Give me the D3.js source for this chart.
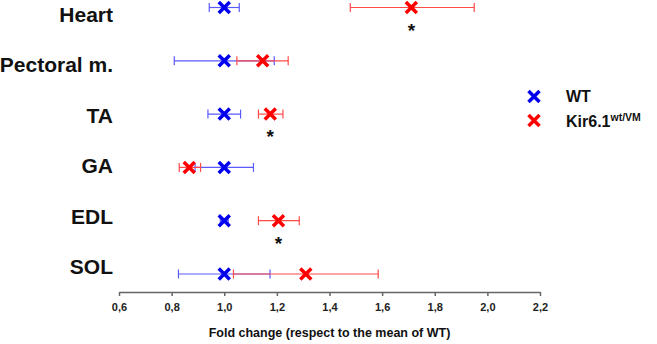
<!DOCTYPE html>
<html><head><meta charset="utf-8">
<script src="https://d3js.org/d3.v7.min.js"></script>
<style>body{margin:0;background:#fff;}svg{display:block;font-family:"Liberation Sans",Arial,sans-serif;}</style>
</head><body><div id="c"></div>
<script>
const categories = ["Heart","Pectoral m.","TA","GA","EDL","SOL"];
const wtMean = [1.0, 1.0, 1.0, 1.0, 1.0, 1.0];
const wtLow  = [0.943, 0.81, 0.938, 0.889, 0.985, 0.826];
const wtHigh = [1.057, 1.19, 1.062, 1.111, 1.015, 1.174];
const kirMean = [1.711, 1.146, 1.175, 0.867, 1.206, 1.31];
const kirLow  = [1.479, 1.048, 1.13, 0.829, 1.13, 1.035];
const kirHigh = [1.95, 1.243, 1.223, 0.91, 1.285, 1.585];
const significant = [true, false, true, false, true, false];
const xTicks = [0.6,0.8,1.0,1.2,1.4,1.6,1.8,2.0,2.2];
const xTitle = "Fold change (respect to the mean of WT)";
const seriesNames = ["WT","Kir6.1"];

const W=657,H=344;
const svg=d3.select("#c").append("svg").attr("width",W).attr("height",H);
const x=d3.scaleLinear().domain([0.6,2.2]).range([119,540]);
const y=d3.scalePoint().domain(categories).range([7.5,274]);
const yLab=d3.scalePoint().domain(categories).range([14.5,266.5]);

// axis
const ax=svg.append("g").attr("transform","translate(0,292)")
  .call(d3.axisBottom(x).tickValues(xTicks).tickSize(4).tickSizeOuter(0)
    .tickFormat(d=>d3.format(".1f")(d).replace(".",",")));
ax.select(".domain").attr("stroke","#666").attr("stroke-width",1.5);
ax.selectAll(".tick line").attr("stroke","#666").attr("stroke-width",1.5);
ax.selectAll(".tick text").attr("font-size",11).attr("font-weight","bold").attr("fill","#222").attr("dy","1.05em")
  .attr("font-family","'Liberation Sans', Arial, sans-serif");
svg.append("text").attr("x",x(1.4)).attr("y",337).attr("text-anchor","middle")
  .attr("font-size",12.5).attr("font-weight","bold").attr("fill","#111").text(xTitle);

// category labels
svg.selectAll(".cat").data(categories).join("text").attr("class","cat")
  .attr("x",113).attr("y",d=>yLab(d)).attr("dy","0.36em").attr("text-anchor","end")
  .attr("font-size",21).attr("font-weight","bold").attr("fill","#111").text(d=>d);

function series(mean,low,high,lineCol,markCol){
  const g=svg.append("g");
  categories.forEach((c,i)=>{
    const yy=y(c);
    g.append("line").attr("x1",x(low[i])).attr("x2",x(high[i])).attr("y1",yy).attr("y2",yy).attr("stroke",lineCol).attr("stroke-width",1.2);
    [low[i],high[i]].forEach(v=>g.append("line").attr("x1",x(v)).attr("x2",x(v)).attr("y1",yy-4.5).attr("y2",yy+4.5).attr("stroke",lineCol).attr("stroke-width",1.2));
    const cx=x(mean[i]),s=5.5;
    g.append("path").attr("d",`M${cx-s},${yy-s}L${cx+s},${yy+s}M${cx-s},${yy+s}L${cx+s},${yy-s}`)
      .attr("stroke",markCol).attr("stroke-width",3.5).attr("fill","none");
  });
}
series(wtMean,wtLow,wtHigh,"#5a5aff","#0000ee");
series(kirMean,kirLow,kirHigh,"#ff4a4a","#ff0000");

// stars
svg.selectAll(".star").data(categories.filter((c,i)=>significant[i])).join("text")
  .attr("x",d=>x(kirMean[categories.indexOf(d)])).attr("y",d=>y(d)+29)
  .attr("text-anchor","middle").attr("font-size",19).attr("font-weight","bold").attr("fill","#111").text("*");

// legend
const leg=[{n:seriesNames[0],c:"#0000ee",yy:96.5},{n:seriesNames[1],c:"#ff0000",yy:120.5}];
leg.forEach(l=>{
  const cx=534,s=5.5;
  svg.append("path").attr("d",`M${cx-s},${l.yy-s}L${cx+s},${l.yy+s}M${cx-s},${l.yy+s}L${cx+s},${l.yy-s}`)
    .attr("stroke",l.c).attr("stroke-width",3.5).attr("fill","none");
});
svg.append("text").attr("x",566).attr("y",96.5).attr("dy","0.36em").attr("font-size",16).attr("font-weight","bold").attr("fill","#111").text("WT");
const t2=svg.append("text").attr("x",566).attr("y",121).attr("dy","0.36em").attr("font-size",16).attr("font-weight","bold").attr("fill","#111");
t2.append("tspan").text("Kir6.1");
t2.append("tspan").attr("dy","-0.55em").attr("font-size",10.5).text("wt/VM");
</script></body></html>
